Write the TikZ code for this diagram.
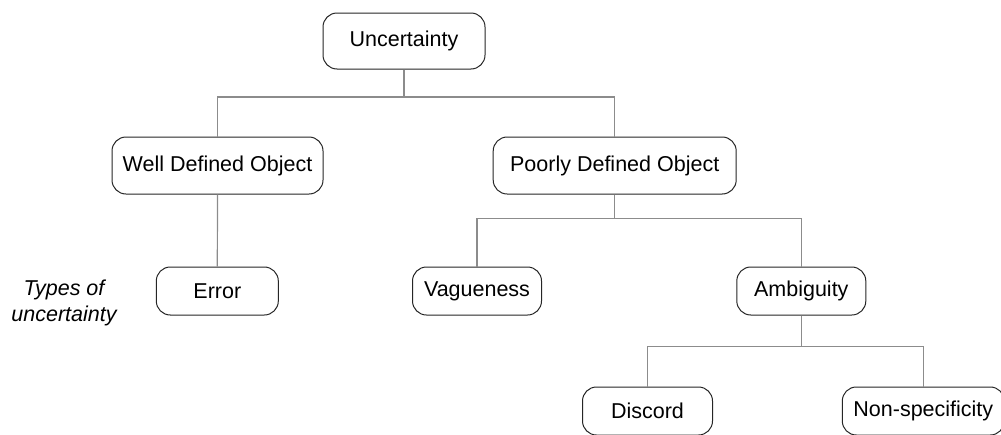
\documentclass[tikz,border=0pt]{standalone}
\usepackage{fontspec}
\setmainfont{Liberation Sans}
\begin{document}
\begin{tikzpicture}[x=1pt,y=-1pt,
  box/.style={draw=black!85, line width=1pt, rounded corners=14pt, inner sep=0pt,
    font=\fontsize{21.5}{26}\selectfont, fill=white},
  link/.style={draw=black!45, line width=1.2pt},
  note/.style={font=\fontsize{21.5}{26}\selectfont\itshape, align=center, inner sep=0pt}]
\useasboundingbox (0,0) rectangle (1001,434);
\begin{scope}
\clip (0,0) rectangle (1001,434);
% level 0
\node[box, minimum width=162pt, minimum height=56pt] (unc) at (404,41) {Uncertainty};
% level 1
\node[box, minimum width=211pt, minimum height=57pt] (well) at (217.5,165.5) {Well Defined Object};
\node[box, minimum width=243pt, minimum height=57pt] (poor) at (614.7,165.5) {Poorly Defined Object};
% level 2
\node[box, minimum width=122pt, minimum height=48pt] (err) at (217.3,291) {Error};
\node[box, minimum width=129pt, minimum height=48pt] (vag) at (477,291) {Vagueness};
\node[box, minimum width=129pt, minimum height=48pt] (amb) at (801.3,291) {Ambiguity};
% level 3
\node[box, minimum width=130pt, minimum height=48pt] (dis) at (647.5,411) {Discord};
\node[box, minimum width=162pt, minimum height=48pt] (non) at (923.3,411) {Non-specificity};
% side label
\node[note] (types) at (64,303) {Types of\\uncertainty};
% branch points
\coordinate (b1) at (404,97);
\coordinate (b2) at (614.7,218.3);
\coordinate (b3) at (801.3,346.7);
% connectors
\draw[link] (unc.south) -- (b1);
\draw[link] (well.north) |- (b1) -| (poor.north);
\draw[link] (well.south) -- (err.north);
\draw[link] (poor.south) -- (b2);
\draw[link] (vag.north) |- (b2) -| (amb.north);
\draw[link] (amb.south) -- (b3);
\draw[link] (dis.north) |- (b3) -| (non.north);
\end{scope}
\end{tikzpicture}
\end{document}
